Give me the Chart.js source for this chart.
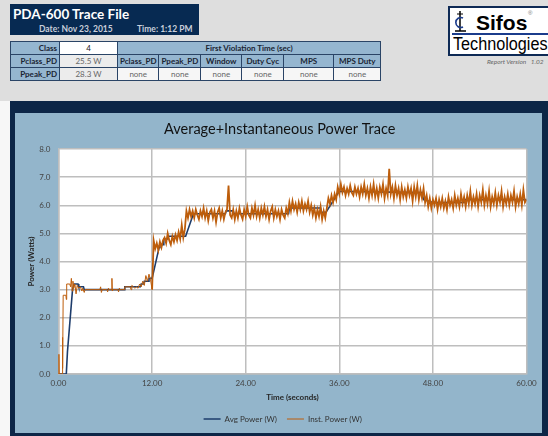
<!DOCTYPE html>
<html>
<head>
<meta charset="utf-8">
<script src="https://cdn.jsdelivr.net/npm/chart.js@4.4.0/dist/chart.umd.min.js"></script>
<style>
body { margin:0; width:548px; height:436px; overflow:hidden; background:#f7f7f7; font-family:Lato, "Liberation Sans", sans-serif; position:relative; }
#topArea { position:absolute; left:0; top:0; width:548px; height:101px; background:#dedede; }
#hdr { position:absolute; left:10px; top:4px; width:189px; height:31px; background:#072a52; color:#fff; }
#hdr .t { position:absolute; left:3px; top:2px; font-size:13.5px; font-weight:bold; white-space:nowrap; }
#hdr .d { position:absolute; top:20px; font-size:8.5px; font-weight:bold; color:#c9cfdb; white-space:nowrap; }
#info { position:absolute; left:10px; top:41px; border-collapse:collapse; table-layout:fixed; border:1.5px solid #1d3654; font-size:8px; }
#info td { height:12px; padding:0 2px; border:1px solid #2a4466; text-align:center; white-space:nowrap; overflow:hidden; }
#info td.lb { background:#95b6d0; font-weight:bold; color:#1a2433; text-align:right; }
#info td.hd { background:#95b6d0; font-weight:bold; color:#1a2433; }
#info td.vw { background:#fff; color:#222; }
#info td.vg { background:#ececec; color:#666; }
#info td.nn { background:#f6f6f6; color:#666; }
#logo { position:absolute; left:448px; top:6px; width:104px; height:46px; background:#fff; border:2px solid #0e2a55; }
#logo .s { position:absolute; left:26px; top:3px; font-family:"Liberation Sans", Arial, sans-serif; font-size:21px; font-weight:bold; color:#000; }
#logo .r { position:absolute; left:78px; top:2px; font-family:"Liberation Sans", sans-serif; font-size:6px; color:#777; }
#logo .ln { position:absolute; left:2px; top:25px; width:100px; height:1.5px; background:#1b3c8c; }
#logo .tc { position:absolute; left:3px; top:26px; font-family:"Liberation Sans", Arial, sans-serif; font-size:18px; color:#000; transform:scaleX(0.9); transform-origin:left top; white-space:nowrap; }
#logo svg { position:absolute; left:3px; top:2px; }
#ver { position:absolute; left:487px; top:58px; font-size:6.5px; font-style:italic; color:#666; white-space:nowrap; }
#panel { position:absolute; left:10px; top:101px; width:538px; height:335px; background:#0d2647; }
#inner { position:absolute; left:5px; top:12px; width:527px; height:320px; background:#93b5cb; }
#c { position:absolute; left:0; top:0; }
</style>
</head>
<body>
<div id="topArea"></div>
<div id="hdr">
  <div class="t">PDA-600 Trace File</div>
  <div class="d" style="left:29px">Date: Nov 23, 2015</div>
  <div class="d" style="left:127px">Time: 1:12 PM</div>
</div>
<table id="info">
  <colgroup><col style="width:49px"><col style="width:58px"><col style="width:40px"><col style="width:39px"><col style="width:41px"><col style="width:42px"><col style="width:50px"><col style="width:47px"></colgroup>
  <tr><td class="lb">Class</td><td class="vw">4</td><td class="hd" colspan="6">First Violation Time (sec)</td></tr>
  <tr><td class="lb">Pclass_PD</td><td class="vg">25.5 W</td><td class="hd">Pclass_PD</td><td class="hd">Ppeak_PD</td><td class="hd">Window</td><td class="hd">Duty Cyc</td><td class="hd">MPS</td><td class="hd">MPS Duty</td></tr>
  <tr><td class="lb">Ppeak_PD</td><td class="vg">28.3 W</td><td class="nn">none</td><td class="nn">none</td><td class="nn">none</td><td class="nn">none</td><td class="nn">none</td><td class="nn">none</td></tr>
</table>
<div id="logo">
  <svg width="16" height="24" viewBox="0 0 16 24">
    <line x1="7" y1="1" x2="7" y2="21" stroke="#000" stroke-width="1.5"/>
    <path d="M10 8 A5 5 0 1 0 10 17" fill="none" stroke="#1b3c8c" stroke-width="1.6"/>
    <line x1="2" y1="21" x2="13" y2="21" stroke="#000" stroke-width="1.5"/>
    <line x1="4" y1="4" x2="10" y2="4" stroke="#000" stroke-width="1"/>
  </svg>
  <div class="s">Sifos</div>
  <div class="r">®</div>
  <div class="ln"></div>
  <div class="tc">Technologies</div>
</div>
<div id="ver">Report Version&nbsp;&nbsp; 1.02</div>
<div id="panel"><div id="inner"><canvas id="c" width="527" height="320"></canvas></div></div>
<script>
// average power trace (W) against time (s)
var avgTime = [0, 1.0, 1.15, 1.8, 2.0, 2.5, 2.6, 3.2, 3.3, 8.4, 8.5, 10.5, 10.6, 10.9, 11.0, 11.5, 11.6, 12.0, 12.9, 13.0,
  13.4, 13.5, 14.0, 14.1, 16.3, 17.3, 21.4, 21.5, 22.4, 22.5, 29.5, 29.6, 33.6, 33.7, 34.3, 36.0, 46.6, 46.8, 48.0, 52.0,
  52.1, 60.0];
var avgPower = [0, 0, 0.8, 3.0, 3.2, 3.2, 3.1, 3.1, 3.0, 3.0, 3.1, 3.1, 3.2, 3.2, 3.3, 3.3, 3.4, 3.4, 4.5, 4.6,
  4.6, 4.8, 4.8, 4.9, 4.9, 5.7, 5.7, 5.8, 5.8, 5.7, 5.7, 5.9, 5.9, 5.75, 5.75, 6.5, 6.45, 6.2, 6.1, 6.1,
  6.2, 6.2];

// instantaneous power, start-up part (irregular samples)
var instTimeStart = [0, 0.05, 0.45, 0.5, 0.55, 0.6, 0.65, 0.95, 1.0, 1.05,
  1.45, 1.55, 1.65, 1.75, 1.85, 1.95, 2.1, 2.25, 2.4, 2.6,
  2.8, 3.0, 3.1, 3.3, 3.4, 5.3, 5.4, 5.5, 5.6, 6.2,
  6.3, 6.4, 6.5, 6.8, 6.85, 6.9, 7.0, 7.6, 7.7, 7.8,
  7.9, 8.4, 8.5, 9.2, 9.3, 9.4, 9.6, 9.8];
var instPowerStart = [0.7, 0, 0, 1.3, 0.2, 2.8, 2.8, 2.8, 2.65, 3.2,
  3.2, 3.1, 3.4, 2.95, 3.3, 3.05, 3.2, 2.85, 3.15, 3.05,
  3.1, 2.95, 3.05, 2.9, 3.0, 3.0, 3.1, 2.9, 3.0, 3.0,
  2.92, 3.05, 3.0, 3.0, 3.4, 2.95, 3.0, 3.0, 2.92, 3.05,
  3.0, 3.0, 3.1, 3.1, 3.0, 3.15, 3.1, 3.05];

// instantaneous power, 10 s to 60 s
var instTimeMain = [10.0, 10.2, 10.4, 10.6, 10.8, 11.0, 11.2, 11.4, 11.6, 11.8,
  12.0, 12.2, 12.4, 12.6, 12.8, 13.0, 13.2, 13.4, 13.6, 13.8,
  14.0, 14.2, 14.4, 14.6, 14.8, 15.0, 15.2, 15.4, 15.6, 15.8,
  16.0, 16.2, 16.4, 16.6, 16.8, 17.0, 17.2, 17.4, 17.6, 17.8,
  18.0, 18.2, 18.4, 18.6, 18.8, 19.0, 19.2, 19.4, 19.6, 19.8,
  20.0, 20.2, 20.4, 20.6, 20.8, 21.0, 21.2, 21.4, 21.6, 21.8,
  22.0, 22.2, 22.4, 22.6, 22.8, 23.0, 23.2, 23.4, 23.6, 23.8,
  24.0, 24.2, 24.4, 24.6, 24.8, 25.0, 25.2, 25.4, 25.6, 25.8,
  26.0, 26.2, 26.4, 26.6, 26.8, 27.0, 27.2, 27.4, 27.6, 27.8,
  28.0, 28.2, 28.4, 28.6, 28.8, 29.0, 29.2, 29.4, 29.6, 29.8,
  30.0, 30.2, 30.4, 30.6, 30.8, 31.0, 31.2, 31.4, 31.6, 31.8,
  32.0, 32.2, 32.4, 32.6, 32.8, 33.0, 33.2, 33.4, 33.6, 33.8,
  34.0, 34.2, 34.4, 34.6, 34.8, 35.0, 35.2, 35.4, 35.6, 35.8,
  36.0, 36.2, 36.4, 36.6, 36.8, 37.0, 37.2, 37.4, 37.6, 37.8,
  38.0, 38.2, 38.4, 38.6, 38.8, 39.0, 39.2, 39.4, 39.6, 39.8,
  40.0, 40.2, 40.4, 40.6, 40.8, 41.0, 41.2, 41.4, 41.6, 41.8,
  42.0, 42.2, 42.4, 42.6, 42.8, 43.0, 43.2, 43.4, 43.6, 43.8,
  44.0, 44.2, 44.4, 44.6, 44.8, 45.0, 45.2, 45.4, 45.6, 45.8,
  46.0, 46.2, 46.4, 46.6, 46.8, 47.0, 47.2, 47.4, 47.6, 47.8,
  48.0, 48.2, 48.4, 48.6, 48.8, 49.0, 49.2, 49.4, 49.6, 49.8,
  50.0, 50.2, 50.4, 50.6, 50.8, 51.0, 51.2, 51.4, 51.6, 51.8,
  52.0, 52.2, 52.4, 52.6, 52.8, 53.0, 53.2, 53.4, 53.6, 53.8,
  54.0, 54.2, 54.4, 54.6, 54.8, 55.0, 55.2, 55.4, 55.6, 55.8,
  56.0, 56.2, 56.4, 56.6, 56.8, 57.0, 57.2, 57.4, 57.6, 57.8,
  58.0, 58.2, 58.4, 58.6, 58.8, 59.0, 59.2, 59.4, 59.6, 59.8,
  60.0];
var instPowerMain = [3.1, 3.05, 3.2, 3.1, 3.3, 3.15, 3.5, 3.3, 3.55, 3.35,
  3.0, 4.75, 4.45, 4.65, 4.4, 4.7, 4.5, 4.75, 4.85, 4.65,
  5.0, 4.75, 4.6, 4.9, 4.7, 4.95, 4.75, 5.05, 4.8, 5.3,
  4.85, 5.15, 5.8, 5.55, 5.85, 5.6, 5.8, 5.55, 5.85, 5.65,
  5.5, 5.8, 5.6, 5.9, 5.55, 5.8, 5.45, 5.75, 5.85, 5.55,
  5.8, 5.4, 5.75, 5.9, 5.55, 5.8, 5.5, 5.75, 5.85, 6.7,
  5.65, 5.55, 5.85, 5.5, 5.8, 5.55, 5.9, 5.65, 5.5, 5.85,
  5.6, 5.95, 5.65, 5.55, 5.9, 5.65, 6.0, 5.6, 5.85, 5.55,
  5.9, 5.65, 5.95, 5.6, 5.85, 5.5, 5.8, 5.95, 5.55, 5.85,
  5.6, 5.8, 5.5, 5.85, 5.65, 5.55, 5.9, 5.7, 6.1, 5.8,
  6.15, 5.85, 6.05, 5.75, 6.1, 5.85, 6.15, 5.8, 6.05, 5.85,
  6.15, 5.75, 6.0, 5.65, 5.9, 5.55, 5.85, 5.6, 5.95, 5.5,
  5.8, 5.55, 5.9, 6.25, 6.05, 6.35, 6.1, 6.4, 6.2, 6.65,
  6.4, 6.75, 6.45, 6.65, 6.35, 6.6, 6.4, 6.7, 6.45, 6.35,
  6.65, 6.4, 6.6, 6.3, 6.65, 6.4, 6.75, 6.35, 6.6, 6.25,
  6.65, 6.35, 6.75, 6.3, 6.6, 6.25, 6.65, 6.4, 6.75, 6.25,
  6.6, 6.35, 7.3, 6.4, 6.65, 6.25, 6.7, 6.35, 6.6, 6.2,
  6.65, 6.3, 6.55, 6.25, 6.65, 6.35, 6.6, 6.15, 6.65, 6.3,
  6.7, 6.2, 6.55, 6.25, 6.6, 6.1, 6.35, 5.95, 6.25, 5.9,
  6.2, 6.0, 6.25, 5.85, 6.2, 5.95, 6.25, 5.9, 6.15, 5.85,
  6.3, 6.0, 6.2, 5.9, 6.35, 6.0, 6.25, 5.95, 6.4, 6.05,
  6.3, 5.95, 6.35, 6.05, 6.5, 6.0, 6.3, 6.05, 6.4, 5.95,
  6.35, 6.1, 6.55, 6.0, 6.35, 6.05, 6.5, 5.95, 6.3, 6.05,
  6.45, 6.0, 6.35, 6.1, 6.5, 5.95, 6.3, 6.05, 6.4, 6.0,
  6.35, 6.1, 6.5, 5.95, 6.3, 6.05, 6.4, 6.0, 6.55, 6.1,
  6.2];

var xTickStep = 12;
var yTickStep = 1;

function toPoints(times, values) {
  var pts = [];
  for (var i = 0; i < times.length; i++) {
    pts.push({x: times[i], y: values[i]});
  }
  return pts;
}

var avgData = toPoints(avgTime, avgPower);
var instData = toPoints(instTimeStart, instPowerStart).concat(toPoints(instTimeMain, instPowerMain));

//White fill behind the plot area
var plotBg = {
  id: 'plotBg',
  beforeDraw: function (chart) {
    var a = chart.chartArea, ctx = chart.ctx;
    ctx.save();
    ctx.fillStyle = '#ffffff';
    ctx.fillRect(a.left, a.top, a.right - a.left, a.bottom - a.top);
    ctx.restore();
  }
};

//Nudges title and legend so they sit where the original ones do
var boxShift = {
  id: 'boxShift',
  afterLayout: function (chart) {
    chart.legend.left += 12;
    chart.legend.right += 12;
    chart.titleBlock.left += 9;
    chart.titleBlock.right += 9;
  }
};

var gridColor = '#bebebe';
var tickFont = {family: 'Lato', size: 8};

new Chart(document.getElementById('c'), {
  type: 'line',
  data: {
    datasets: [{
      label: 'Avg Power (W)',
      data: avgData,
      borderColor: '#1d3c6b',
      backgroundColor: '#1d3c6b',
      borderWidth: 1.6,
      pointRadius: 0,
      pointStyle: 'line',
      tension: 0,
      order: 1
    }, {
      label: 'Inst. Power (W)',
      data: instData,
      borderColor: '#bd5d0b',
      backgroundColor: '#bd5d0b',
      borderWidth: 1,
      pointRadius: 0,
      pointStyle: 'line',
      tension: 0,
      order: 0,
      segment: {
        borderWidth: function (ctx) { return ctx.p0.parsed.x >= 12 ? 1.8 : 1; }
      }
    }]
  },
  options: {
    responsive: false,
    animation: false,
    layout: {padding: {left: 0, right: 15.5, top: 0, bottom: 0}},
    plugins: {
      title: {
        display: true,
        text: 'Average+Instantaneous Power Trace',
        color: '#111',
        font: {family: 'Lato', size: 14.5, weight: 'normal'},
        padding: {top: 7.3, bottom: 11.3}
      },
      legend: {
        position: 'bottom',
        labels: {
          usePointStyle: true,
          pointStyleWidth: 17,
          boxHeight: 8,
          padding: 10,
          color: '#333',
          font: {family: 'Lato', size: 8},
          sort: function (a, b) { return a.datasetIndex - b.datasetIndex; }
        }
      },
      tooltip: {enabled: false}
    },
    scales: {
      x: {
        type: 'linear',
        min: 0,
        max: 60,
        ticks: {stepSize: xTickStep, color: '#444', font: tickFont, padding: 5, maxRotation: 0,
          callback: function (v) { return v.toFixed(2); }},
        grid: {color: gridColor, lineWidth: 1.5, drawTicks: false},
        border: {color: gridColor, width: 1.5},
        title: {display: true, text: 'Time (seconds)', color: '#262626',
          font: {family: 'Lato', size: 8, weight: 'bold'}, padding: {top: 0, bottom: 3}},
        afterFit: function (scale) { scale.height = 31; }
      },
      y: {
        min: 0,
        max: 8,
        ticks: {stepSize: yTickStep, color: '#444', font: tickFont, padding: 8,
          callback: function (v) { return v.toFixed(1); }},
        grid: {color: gridColor, lineWidth: 1.5, drawTicks: false},
        border: {color: gridColor, width: 1.5},
        title: {display: true, text: 'Power (Watts)', color: '#262626',
          font: {family: 'Lato', size: 8, weight: 'bold'}, padding: {top: 12, bottom: 0}},
        afterFit: function (scale) { scale.width = 43.5; }
      }
    }
  },
  plugins: [plotBg, boxShift]
});
</script>
</body>
</html>
